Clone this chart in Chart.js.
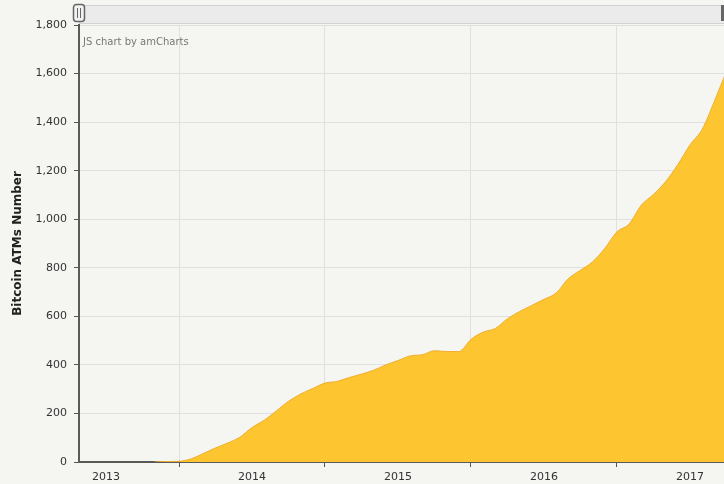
<!DOCTYPE html>
<html>
<head>
<meta charset="utf-8">
<script src="https://cdn.jsdelivr.net/npm/chart.js@4.4.1/dist/chart.umd.min.js"></script>
<style>
  html, body { margin: 0; padding: 0; background: #f5f5f2; }
  #wrap { width: 724px; height: 484px; }
</style>
</head>
<body>
<div id="wrap"><canvas id="chartAtms"></canvas></div>
<script>
// monthly Bitcoin ATM counts
const months = [
    '2013-11', '2013-12',
    '2014-01', '2014-02', '2014-03', '2014-04', '2014-05', '2014-06',
    '2014-07', '2014-08', '2014-09', '2014-10', '2014-11', '2014-12',
    '2015-01', '2015-02', '2015-03', '2015-04', '2015-05', '2015-06',
    '2015-07', '2015-08', '2015-09', '2015-10', '2015-11', '2015-12',
    '2016-01', '2016-02', '2016-03', '2016-04', '2016-05', '2016-06',
    '2016-07', '2016-08', '2016-09', '2016-10', '2016-11', '2016-12',
    '2017-01', '2017-02', '2017-03', '2017-04', '2017-05', '2017-06',
    '2017-07', '2017-08', '2017-09', '2017-10'
];
const atmCounts = [
    0, 2,
    3, 13, 35, 58, 78, 102,
    142, 172, 210, 250, 280, 303,
    325, 332, 348, 362, 378, 400,
    418, 437, 442, 458, 455, 455,
    505, 535, 550, 590, 620, 645,
    670, 696, 755, 790, 825, 880,
    948, 980, 1058, 1102, 1155, 1225,
    1306, 1370, 1485, 1610
];
const yearLabels = ['2013', '2014', '2015', '2016', '2017'];
const yTicks = [0, 200, 400, 600, 800, 1000, 1200, 1400, 1600, 1800];

const toYear = (m) => {
    const [y, mo] = m.split('-').map(Number);
    return y + (mo - 1) / 12;
};

const puntos = months.map((m, i) => ({ x: toYear(m), y: atmCounts[i] }));

// grid lines at year starts, labels centred in the year
const gridYears = yearLabels.slice(1).map(Number);
const labelYears = yearLabels.map(y => Number(y) + 0.5);

Chart.defaults.font.family = 'DejaVu Sans, Verdana, sans-serif';
Chart.defaults.font.size = 11;
Chart.defaults.color = '#333';

const fondo = {
    id: 'fondo',
    beforeDraw(chart) {
        const ctx = chart.ctx;
        ctx.save();
        ctx.fillStyle = '#f5f5f2';
        ctx.fillRect(0, 0, chart.width, chart.height);
        ctx.restore();
    }
};

// scrollbar + credit text like the original amCharts widget
const scrollbar = {
    id: 'scrollbar',
    afterDraw(chart) {
        const ctx = chart.ctx;
        const a = chart.chartArea;
        ctx.save();
        ctx.fillStyle = '#ebebeb';
        ctx.strokeStyle = '#d2d2d2';
        ctx.lineWidth = 1;
        ctx.fillRect(a.left, 5, chart.width - a.left, 19);
        ctx.strokeRect(a.left + 0.5, 5.5, chart.width - a.left, 18);

        // left grip
        ctx.fillStyle = '#f2f2f2';
        ctx.strokeStyle = '#666';
        ctx.lineWidth = 1.5;
        ctx.beginPath();
        ctx.roundRect(a.left - 5.5, 4.5, 11, 17, 3);
        ctx.fill();
        ctx.stroke();
        ctx.lineWidth = 1;
        ctx.beginPath();
        ctx.moveTo(a.left - 1.5, 8); ctx.lineTo(a.left - 1.5, 18);
        ctx.moveTo(a.left + 1.5, 8); ctx.lineTo(a.left + 1.5, 18);
        ctx.stroke();

        // right grip (clipped)
        ctx.fillStyle = '#666';
        ctx.fillRect(chart.width - 3, 5, 3, 16);

        ctx.fillStyle = '#777';
        ctx.font = '10px DejaVu Sans, Verdana, sans-serif';
        ctx.textBaseline = 'middle';
        ctx.fillText('JS chart by amCharts', a.left + 4, 42);
        ctx.restore();
    }
};

const canvas = document.getElementById('chartAtms');
const context = canvas.getContext('2d');

const chartAtms = new Chart(context, {
    type: 'line',
    data: {
        datasets: [
            {
                label: 'Bitcoin ATMs',
                data: puntos,
                borderColor: '#f2ae2e',
                borderWidth: 1,
                backgroundColor: '#fdc52f',
                fill: 'origin',
                pointRadius: 0,
                cubicInterpolationMode: 'monotone'
            }
        ]
    },
    options: {
        responsive: true,
        maintainAspectRatio: false,
        animation: false,
        layout: {
            padding: { top: 25, right: 0, left: 0, bottom: 0 }
        },
        plugins: {
            legend: { display: false },
            tooltip: { enabled: false }
        },
        scales: {
            x: {
                type: 'linear',
                min: 2013.315,
                max: 2017.733,
                afterBuildTicks: (scale) => {
                    scale.ticks = [...gridYears, ...labelYears]
                        .sort((a, b) => a - b)
                        .map(v => ({ value: v }));
                },
                afterFit: (scale) => { scale.height = 22; },
                ticks: {
                    autoSkip: false,
                    maxRotation: 0,
                    padding: 4,
                    color: '#333',
                    callback: (value) => Number.isInteger(value) ? '' : String(Math.floor(value))
                },
                grid: {
                    color: (c) => c.tick && Number.isInteger(c.tick.value) ? '#e0e0e0' : 'rgba(0,0,0,0)',
                    tickColor: (c) => c.tick && Number.isInteger(c.tick.value) ? '#555' : 'rgba(0,0,0,0)',
                    tickLength: 5
                },
                border: { color: '#5a5a5a', width: 2 }
            },
            y: {
                min: 0,
                max: 1800,
                afterBuildTicks: (scale) => {
                    scale.ticks = yTicks.map(v => ({ value: v }));
                },
                afterFit: (scale) => { scale.width = 79; },
                ticks: {
                    padding: 7,
                    color: '#333',
                    callback: (value) => value.toLocaleString('en-US')
                },
                grid: {
                    color: '#e0e0e0',
                    tickColor: '#555',
                    tickLength: 5
                },
                border: { color: '#5a5a5a', width: 2 },
                title: {
                    display: true,
                    text: 'Bitcoin ATMs Number',
                    color: '#222',
                    font: { weight: 'bold', size: 12 },
                    padding: { top: 11, bottom: 0 }
                }
            }
        }
    },
    plugins: [fondo, scrollbar]
});
</script>
</body>
</html>
